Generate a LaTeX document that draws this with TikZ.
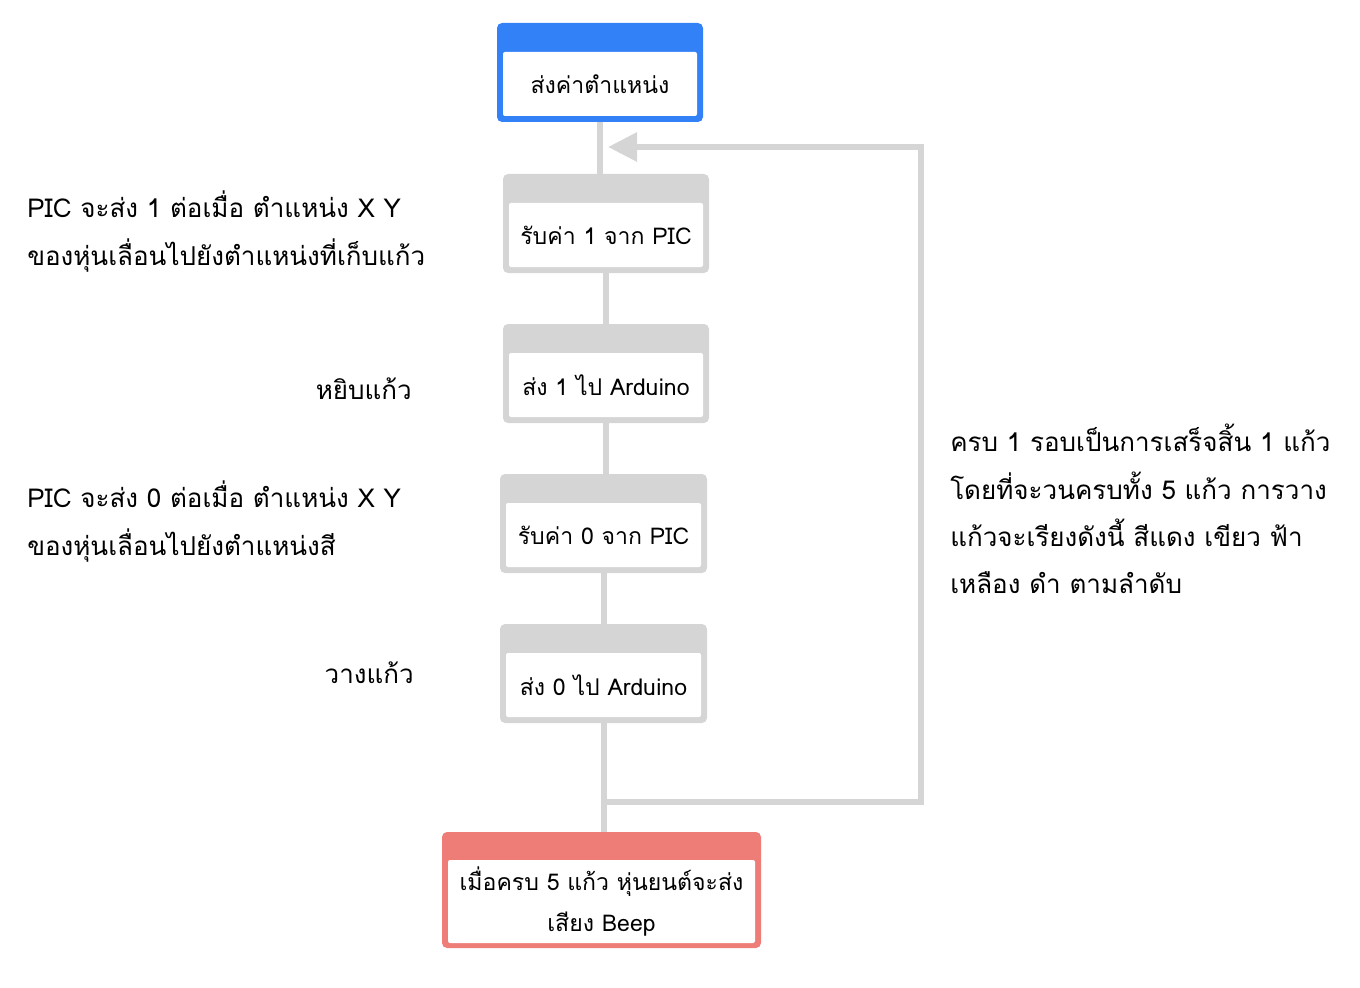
\documentclass[tikz,border=0pt]{standalone}
\usepackage{fontspec}
\setmainfont[Script=Thai]{Loma}
\usetikzlibrary{arrows.meta}
\definecolor{hdrblue}{HTML}{3381F6}
\definecolor{hdrred}{HTML}{EF7D77}
\definecolor{linegray}{HTML}{D5D5D5}
\newcommand\boxfont{\fontsize{17.3pt}{30.75pt}\selectfont}
\newcommand\notefont{\fontsize{19.5pt}{35.5pt}\selectfont}
\tikzset{
  frame/.style={rectangle, rounded corners=3.75pt, fill=#1, inner sep=0pt,
    minimum width=154.5pt, minimum height=74.25pt},
  face/.style={rectangle, rounded corners=1.5pt, fill=white, inner sep=0pt,
    minimum width=145.5pt, minimum height=48pt, font=\boxfont, anchor=north},
  conn/.style={draw=linegray, line width=4.5pt},
  note/.style={inner sep=0pt, font=\notefont, align=left}
}
\begin{document}
\begin{tikzpicture}[x=0.75pt,y=-0.75pt]
\useasboundingbox (0,0) rectangle (1360,988);

% outer frames (header band + border)
\node[frame=hdrblue] (top) at (600,72.5) {};
\node[frame=linegray] (b1) at (606,223.5) {};
\node[frame=linegray] (b2) at (606,373.5) {};
\node[frame=linegray, minimum width=155.25pt] (b3) at (603.5,523.5) {};
\node[frame=linegray, minimum width=155.25pt] (b4) at (603.5,673.5) {};
\node[frame=hdrred, minimum width=239.25pt, minimum height=87pt] (beep) at (601.5,890) {};

% white faces carrying the step texts
\node[face] (topt) at ([yshift=-21.75pt]top.north) {ส่งค่าตำแหน่ง};
\node[face] (b1t) at ([yshift=-21.75pt]b1.north) {รับค่า 1 จาก PIC};
\node[face] (b2t) at ([yshift=-21.75pt]b2.north) {ส่ง 1 ไป Arduino};
\node[face, minimum width=146.25pt] (b3t) at ([yshift=-21.75pt]b3.north) {รับค่า 0 จาก PIC};
\node[face, minimum width=146.25pt] (b4t) at ([yshift=-21.75pt]b4.north) {ส่ง 0 ไป Arduino};
\node[face, minimum width=230.25pt, minimum height=62.25pt, align=center]
  (beept) at ([yshift=-21pt]beep.north) {เมื่อครบ 5 แก้ว หุ่นยนต์จะส่ง\\เสียง Beep};

% flow connectors
\draw[conn] (top.south) -- (top.south |- b1.north);
\draw[conn] (b1.south) -- (b1.south |- b2.north);
\draw[conn] (b2.south) -- (b2.south |- b3.north);
\draw[conn] (b3.south) -- (b3.south |- b4.north);
\draw[conn] (b4.south) -- (b4.south |- beep.north);

% loop back to the start
\coordinate (join) at (603.5,802);
\coordinate (ne) at (921,147);
\coordinate (tip) at (608,147);
\draw[conn, -{Triangle[length=21.75pt,width=21pt]}] (join) -| (ne) -- (tip);

% side notes
\node[note, anchor=west] (n1) at (27,231.5) {PIC จะส่ง 1 ต่อเมื่อ ตำแหน่ง X Y\\ของหุ่นเลื่อนไปยังตำแหน่งที่เก็บแก้ว};
\node[note, anchor=east] (n2) at (412,389) {หยิบแก้ว};
\node[note, anchor=west] (n3) at (27,521.5) {PIC จะส่ง 0 ต่อเมื่อ ตำแหน่ง X Y\\ของหุ่นเลื่อนไปยังตำแหน่งสี};
\node[note, anchor=east] (n4) at (414,673) {วางแก้ว};
\node[note, anchor=west] (n5) at (950,509) {ครบ 1 รอบเป็นการเสร็จสิ้น 1 แก้ว\\โดยที่จะวนครบทั้ง 5 แก้ว การวาง\\แก้วจะเรียงดังนี้ สีแดง เขียว ฟ้า\\เหลือง ดำ ตามลำดับ};
\end{tikzpicture}
\end{document}
